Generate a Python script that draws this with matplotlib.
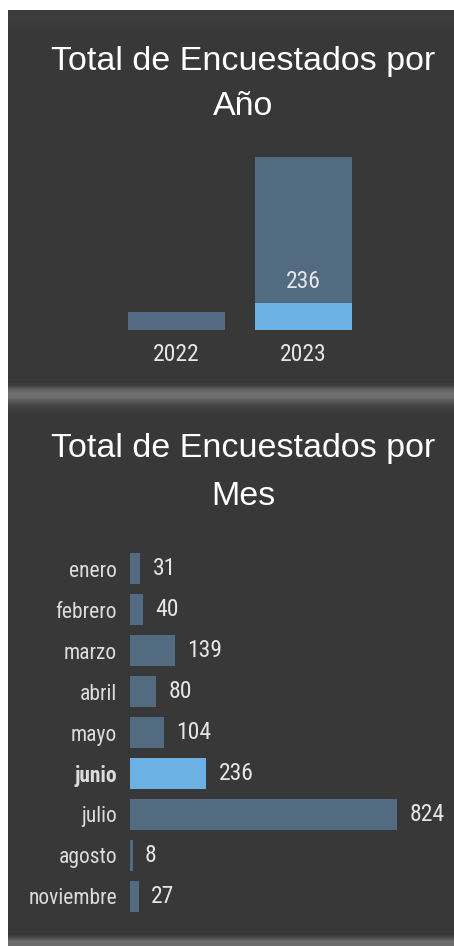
import matplotlib
matplotlib.use("Agg")
import matplotlib.pyplot as plt
import numpy as np

years = ["2022", "2023"]
year_totals = [155, 1489]
year_highlight = [0, 236]

months = ["enero", "febrero", "marzo", "abril", "mayo", "junio", "julio", "agosto", "noviembre"]
month_values = [31, 40, 139, 80, 104, 236, 824, 8, 27]
highlight_month = "junio"

W, H = 454, 946
BG = "#383838"
BAR = "#526b80"
HL = "#6cb1e3"
NARROW = ["Roboto Condensed", "DejaVu Sans"]
TITLE_FONT = ["Liberation Sans", "DejaVu Sans"]

fig = plt.figure(figsize=(W / 100, H / 100), dpi=100, facecolor="white")


def px_axes(left, top, width, height):
    return fig.add_axes([left / W, 1 - (top + height) / H, width / W, height / H])


# dark panel
bg = px_axes(8, 10, W - 8, H - 10)
bg.set_facecolor(BG)
bg.set_xticks([])
bg.set_yticks([])
for s in bg.spines.values():
    s.set_visible(False)


def band(top, height, profile):
    a = px_axes(8, top, W - 8, height)
    col = np.array(profile)[:, None, None] * np.ones((1, 2, 3))
    a.imshow(col, aspect="auto", interpolation="bilinear", extent=[0, 1, 0, 1])
    a.axis("off")


# separators
band(10, 22, [0.235, 0.24, 0.235, 0.22])
band(383, 34, [0.24, 0.38, 0.44, 0.42, 0.33, 0.27, 0.235, 0.22])
band(934, 12, [0.22, 0.30, 0.42, 0.42])

# titles
for txt, yy in [("Total de Encuestados por", 70), ("Año", 115),
                ("Total de Encuestados por", 457), ("Mes", 505)]:
    fig.text(243 / W, 1 - yy / H, txt, ha="center", va="baseline",
             fontsize=24.5, color="white", family=TITLE_FONT)

# year chart
ax1 = px_axes(100, 157, 280, 173)
x = np.arange(len(years))
ax1.bar(x, year_totals, width=0.764, color=BAR)
ax1.bar(x, year_highlight, width=0.764, color=HL)
for i, v in enumerate(year_highlight):
    if v:
        ax1.annotate(str(v), (x[i], v), xytext=(0, 10.8), textcoords="offset points",
                     ha="center", va="baseline", fontsize=17, color="#e6e6e6", family=NARROW)
ax1.set_xlim(-76.5 / 127, 203.5 / 127)
ax1.set_ylim(0, max(year_totals))
ax1.set_xticks(x, years)
ax1.tick_params(axis="x", length=0, pad=9.4, labelsize=17, labelcolor="#e6e6e6")
for lbl in ax1.get_xticklabels():
    lbl.set_family(NARROW)
ax1.set_yticks([])
ax1.set_facecolor("none")
for s in ax1.spines.values():
    s.set_visible(False)

# month chart
ax2 = px_axes(130, 548.5, 300, 368)
y = np.arange(len(months))
colors = [HL if m == highlight_month else BAR for m in months]
ax2.barh(y, month_values, height=0.76, color=colors)
for i, v in enumerate(month_values):
    ax2.annotate(str(v), (v, y[i]), xytext=(9, 0), textcoords="offset points",
                 ha="left", va="center", fontsize=17, color="#e6e6e6", family=NARROW)
ax2.set_ylim(len(months) - 0.5, -0.5)
ax2.set_xlim(0, 824 * 300 / 267)
ax2.set_yticks(y, months)
ax2.tick_params(axis="y", length=0, pad=9.4, labelsize=15.5, labelcolor="#dcdcdc")
for lbl, m in zip(ax2.get_yticklabels(), months):
    lbl.set_family(NARROW)
    if m == highlight_month:
        lbl.set_fontweight("bold")
ax2.set_xticks([])
ax2.set_facecolor("none")
for s in ax2.spines.values():
    s.set_visible(False)

fig.savefig("out.png", dpi=100, facecolor="white")
